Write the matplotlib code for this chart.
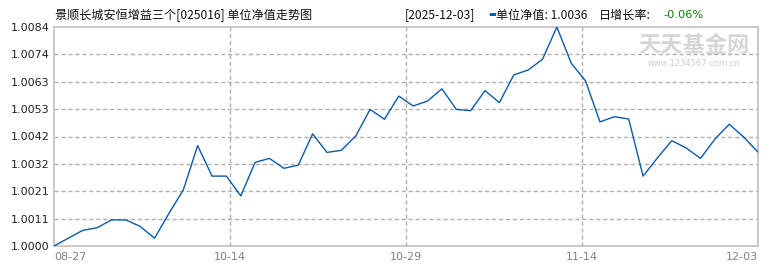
import numpy as np
import matplotlib
matplotlib.use("Agg")
import matplotlib.pyplot as plt

plt.rcParams['font.family'] = ['Noto Sans CJK SC', 'DejaVu Sans']

title = "景顺长城安恒增益三个[025016] 单位净值走势图"
date_str = "[2025-12-03]"
nav_label = "单位净值: 1.0036"
growth_label = "日增长率:"
growth_value = "-0.06%"

nav = [1.0000, 1.0003, 1.0006, 1.0007, 1.0010, 1.0010, 1.00075, 1.0003,
       1.00125, 1.00215, 1.00385, 1.00268, 1.00268, 1.00192, 1.00321, 1.00336,
       1.00298, 1.00310, 1.00430, 1.00359, 1.00367, 1.00422, 1.00524, 1.00486,
       1.00575, 1.00537, 1.00556, 1.00603, 1.00524, 1.00519, 1.00596, 1.00550,
       1.00656, 1.00675, 1.00716, 1.0084, 1.00701, 1.00633, 1.00476, 1.00496,
       1.00487, 1.00268, 1.00338, 1.00404, 1.00376, 1.00336, 1.00410, 1.00467,
       1.00418, 1.0036]

x_labels = ["08-27", "10-14", "10-29", "11-14", "12-03"]
y_labels = ["1.0000", "1.0011", "1.0021", "1.0032", "1.0042", "1.0053",
            "1.0063", "1.0074", "1.0084"]

W, H = 770, 270
fig = plt.figure(figsize=(W / 100, H / 100), dpi=100)
L, R, T, B = 54, 758, 27, 246
ax = fig.add_axes([L / W, 1 - B / H, (R - L) / W, (B - T) / H])

x = np.arange(len(nav))
ymin, ymax = 1.0000, 1.0084
ax.set_xlim(0, len(nav) - 1)
ax.set_ylim(ymin, ymax)

yt = np.linspace(ymin, ymax, len(y_labels))
xt = np.linspace(0, len(nav) - 1, len(x_labels))

grid_kw = dict(color='#b0b0b0', linewidth=1.0, linestyle=(0, (3, 2)), zorder=1)
for v in yt[1:-1]:
    ax.axhline(v, **grid_kw)
for v in xt[1:-1]:
    ax.axvline(v, **grid_kw)

ax.plot(x, nav, color='#0b5bab', linewidth=1.0, zorder=3)

for s in ax.spines.values():
    s.set_color('#c0c0c0')
    s.set_linewidth(1.2)

ax.set_yticks(yt)
ax.set_yticklabels(y_labels, fontsize=8, color='#222222', family='DejaVu Sans')
ax.set_xticks(xt)
ax.set_xticklabels(x_labels, fontsize=8, color='#808080', family='DejaVu Sans')
ax.tick_params(axis='both', length=0)
ax.tick_params(axis='y', pad=3)
ax.tick_params(axis='x', pad=4)
xl = ax.get_xticklabels()
xl[0].set_ha('left')
xl[-1].set_ha('right')

def fx(px):
    return px / W

def fy(py):
    return 1 - py / H

fig.text(fx(55), fy(15), title, fontsize=8.7, color='#111111', va='center', ha='left')
fig.text(fx(405), fy(15), date_str, fontsize=8.7, color='#111111', va='center', ha='left')
fig.text(fx(488), fy(15), "▬", fontsize=6, color='#0b5bab', va='center', ha='left', family='DejaVu Sans')
fig.text(fx(496), fy(15), nav_label, fontsize=8.7, color='#111111', va='center', ha='left')
fig.text(fx(599), fy(15), growth_label, fontsize=8.7, color='#111111', va='center', ha='left')
fig.text(fx(663), fy(15), growth_value, fontsize=8.2, color='#008000', va='center', ha='left', family='DejaVu Sans')

# watermark
fig.text(fx(694), fy(46), "天天基金网", fontsize=16, color='#d6d6d6', va='center', ha='center', fontweight='bold', zorder=0)
fig.text(fx(694), fy(63), "www.1234567.com.cn", fontsize=6, color='#cccccc', va='center', ha='center', family='DejaVu Sans', zorder=0)

fig.savefig("out.png", dpi=100)
